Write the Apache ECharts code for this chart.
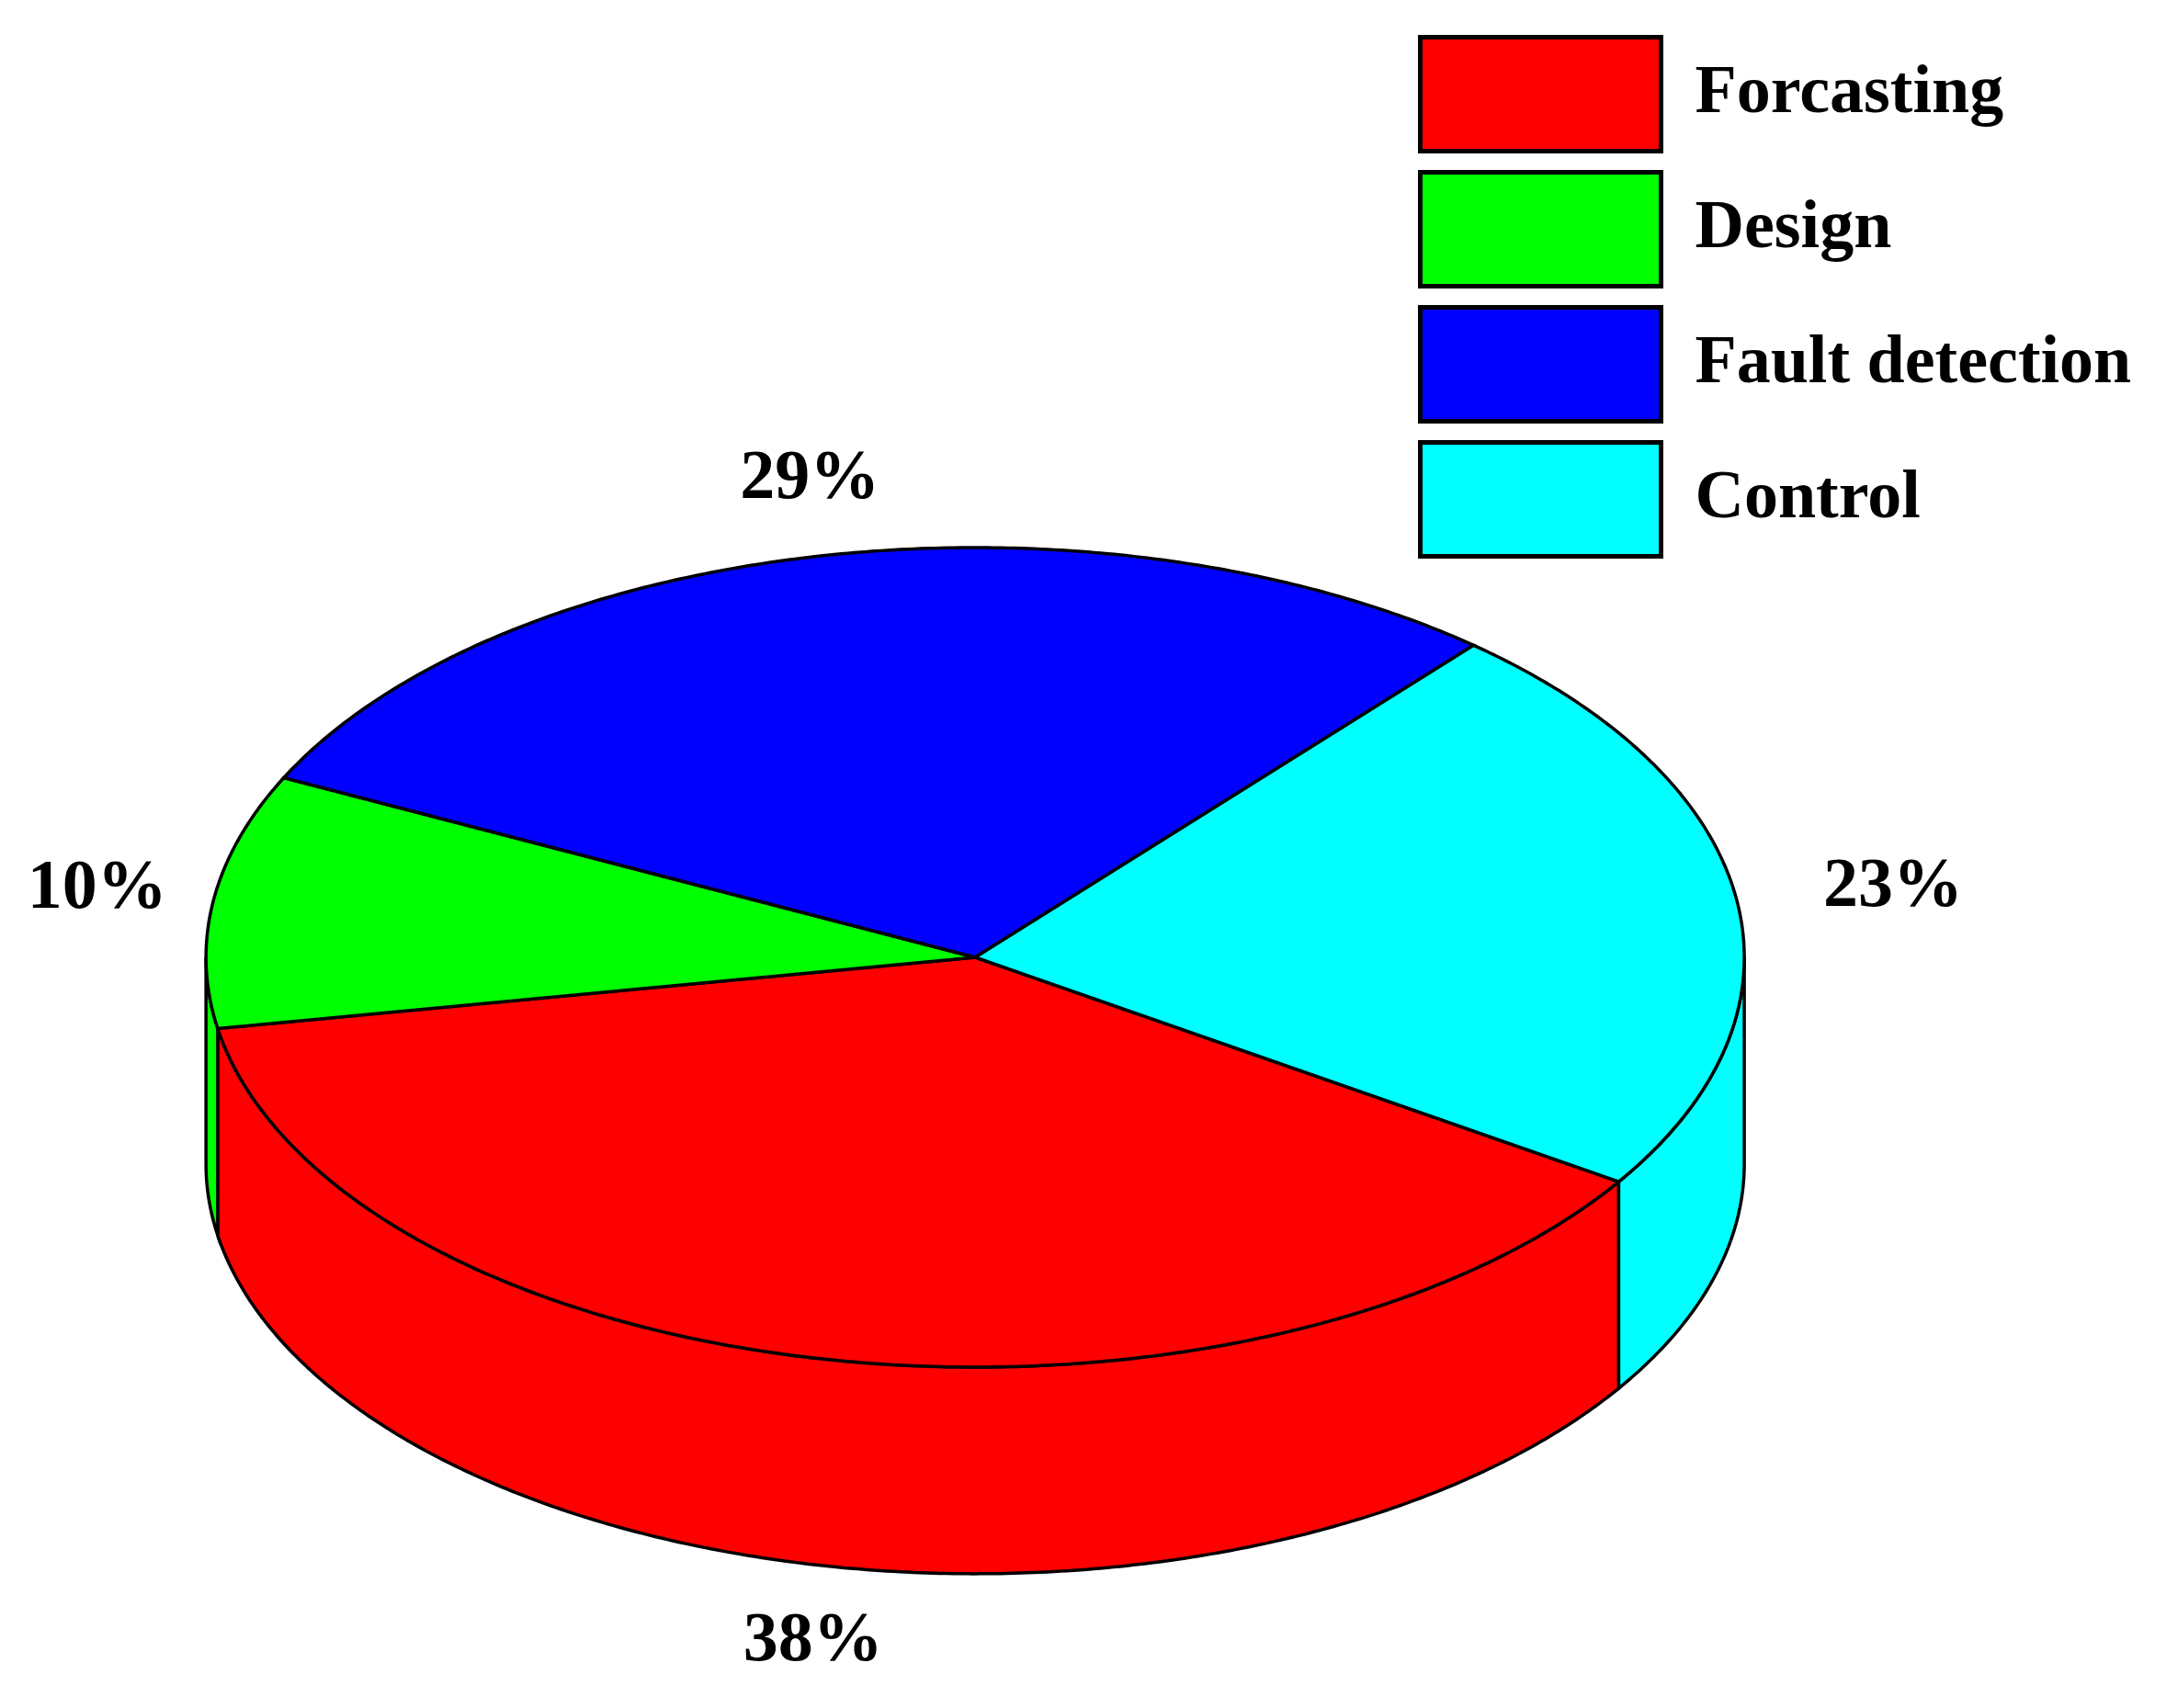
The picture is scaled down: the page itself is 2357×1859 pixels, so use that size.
<!DOCTYPE html>
<html><head><meta charset="utf-8">
<script src="https://cdn.jsdelivr.net/npm/echarts@6/dist/echarts.min.js"></script>
<style>html,body{margin:0;padding:0;background:#fff}#c{width:2357px;height:1859px}</style>
</head><body><div id="c"></div>
<script>
// ---- data ----
const categories = ['Forcasting', 'Design', 'Fault detection', 'Control'];
const values = [38, 10, 29, 23];
const percentLabels = ['38%', '10%', '29%', '23%'];
const colors = ['#ff0000', '#00ff00', '#0000ff', '#00ffff'];

// ---- layout (fractions of chart size) ----
const START_DEG = 33.2;      // first slice starts here, clockwise on screen
const CX = 0.4502, CY = 0.5605, RX = 0.3551, RY = 0.2399, DEPTH = 0.121;
const LABEL_DX = 150, LABEL_DY = 85, LABEL_SHIFT_X = 22;
const FONT = 'Liberation Serif';

const total = values.reduce((s, v) => s + v, 0);

function makeRender(idx) {
  return function (params, api) {
    const W = api.getWidth(), H = api.getHeight();
    const cx = W * CX, cy = H * CY, rx = W * RX, ry = H * RY, depth = H * DEPTH;
    let before = 0;
    for (let i = 0; i < idx; i++) before += values[i];
    const a = START_DEG + before / total * 360;
    const b = a + api.value(0) / total * 360;
    const pt = (t, dy) => [cx + rx * Math.cos(t * Math.PI / 180), cy + ry * Math.sin(t * Math.PI / 180) + (dy || 0)];
    const arc = (s, e, dy) => {
      const n = Math.max(2, Math.ceil((e - s) / 0.5));
      const out = [];
      for (let k = 0; k <= n; k++) out.push(pt(s + (e - s) * k / n, dy));
      return out;
    };
    const color = colors[idx];
    const children = [];
    [[0, 180], [360, 540]].forEach(([lo, hi]) => {
      const s = Math.max(a, lo), e = Math.min(b, hi);
      if (e > s) {
        const top = arc(s, e, 0), bot = arc(s, e, depth).reverse();
        children.push({
          type: 'polygon',
          shape: { points: top.concat(bot) },
          style: { fill: color, stroke: '#000', lineWidth: 3.5, lineJoin: 'miter' }
        });
      }
    });
    children.push({
      type: 'polygon',
      shape: { points: [[cx, cy]].concat(arc(a, b, 0)) },
      style: { fill: color, stroke: '#000', lineWidth: 3.5, lineJoin: 'miter' }
    });
    const m = (a + b) / 2 * Math.PI / 180;
    const sx = Math.sin(m);
    children.push({
      type: 'text',
      x: cx + LABEL_SHIFT_X + (rx + LABEL_DX) * Math.cos(m),
      y: cy + (ry + LABEL_DY) * sx + (sx > 0 ? depth : 0),
      style: {
        text: percentLabels[idx],
        fontFamily: FONT, fontWeight: 'bold', fontSize: 76, fill: '#000',
        align: 'center', verticalAlign: 'middle'
      }
    });
    return { type: 'group', children };
  };
}

const series = categories.map((name, i) => ({
  type: 'custom',
  name: name,
  coordinateSystem: 'none',
  itemStyle: { color: colors[i] },
  renderItem: makeRender(i),
  data: [values[i]],
  silent: true
}));

const chart = echarts.init(document.getElementById('c'), null, { renderer: 'canvas' });
chart.setOption({
  animation: false,
  backgroundColor: '#ffffff',
  legend: {
    orient: 'vertical',
    left: 1543, top: 38,
    padding: 0,
    itemWidth: 262, itemHeight: 124, itemGap: 18,
    icon: 'rect',
    selectedMode: false,
    itemStyle: { borderColor: '#000', borderWidth: 5 },
    textStyle: { fontFamily: FONT, fontWeight: 'bold', fontSize: 74, color: '#000', padding: [0, 0, 0, 32] },
    data: categories
  },
  series: series
});
</script>
</body></html>
